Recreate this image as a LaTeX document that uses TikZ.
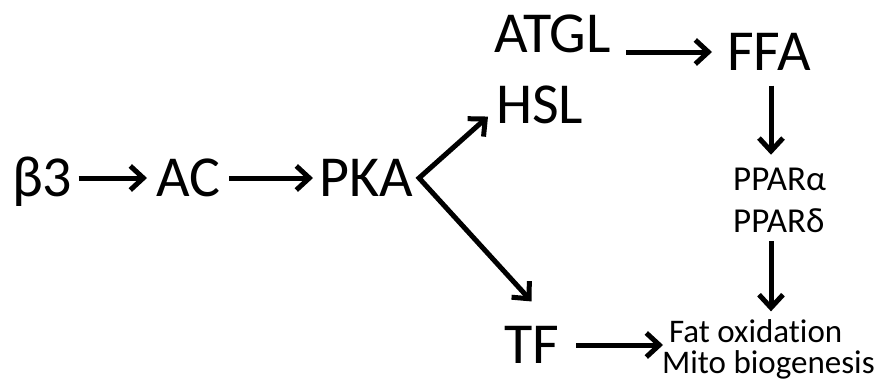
\documentclass[tikz,border=0pt]{standalone}
\usepackage{fontspec}
\setmainfont[Ligatures=NoCommon]{Carlito}
\usetikzlibrary{arrows.meta,calc}
\begin{document}
\begin{tikzpicture}[x=1pt,y=-1pt,
 big/.style={font=\fontsize{58}{58}\selectfont, inner sep=0pt, text height=36.7pt, text depth=0pt, anchor=west},
 mid/.style={font=\fontsize{35}{35}\selectfont, inner sep=0pt, text height=22.1pt, text depth=0pt, anchor=west},
 small/.style={font=\fontsize{33}{33}\selectfont, inner sep=0pt, text height=20.9pt, text depth=0pt, anchor=west},
 >={Straight Barb[length=13pt,width=24pt]},
 arr/.style={line width=5pt, ->}]
\useasboundingbox[fill=white] (0,0) rectangle (887,386);
\node[big] (b3) at (12,178) {β3};
\node[big] (ac) at (156,178) {AC};
\node[big] (pka) at (319,178) {PKA};
\node[big] (atgl) at (494,34) {ATGL};
\node[big] (hsl) at (496,105) {HSL};
\node[big] (ffa) at (727,52) {FFA};
\node[big] (tf) at (504,345) {TF};
\node[mid] (ppara) at (733,179) {PPARα};
\node[mid] (ppard) at (733,221) {PPARδ};
\node[small] (fat) at (669,332) {Fat oxidation};
\node[small] (mito) at (662,363) {Mito biogenesis};
\draw[arr] ($(b3.east)+(6,0)$) -- ($(ac.west)+(-9,0)$);
\draw[arr] ($(ac.east)+(9,0)$) -- ($(pka.west)+(-6,0)$);
\coordinate (fork) at ($(pka.east)+(6,0)$);
\draw[arr, <->] ($(hsl.south west)+(-8,-7)$) -- (fork) -- ($(tf.north)+(0,-25)$);
\draw[arr] ($(atgl.east |- ffa.west)+(15,0)$) -- ($(ffa.west)+(-15,0)$);
\draw[arr] ($(ffa.south)+(2,15)$) -- ($(ffa.south |- ppara.north)+(2,-13)$);
\draw[arr] ($(ffa.south |- ppard.south)+(2,9)$) -- ($(ffa.south |- fat.north)+(2,-10)$);
\draw[arr] ($(tf.east)+(17,0)$) -- ($(tf.east -| mito.west)+(1,0)$);
\end{tikzpicture}
\end{document}
